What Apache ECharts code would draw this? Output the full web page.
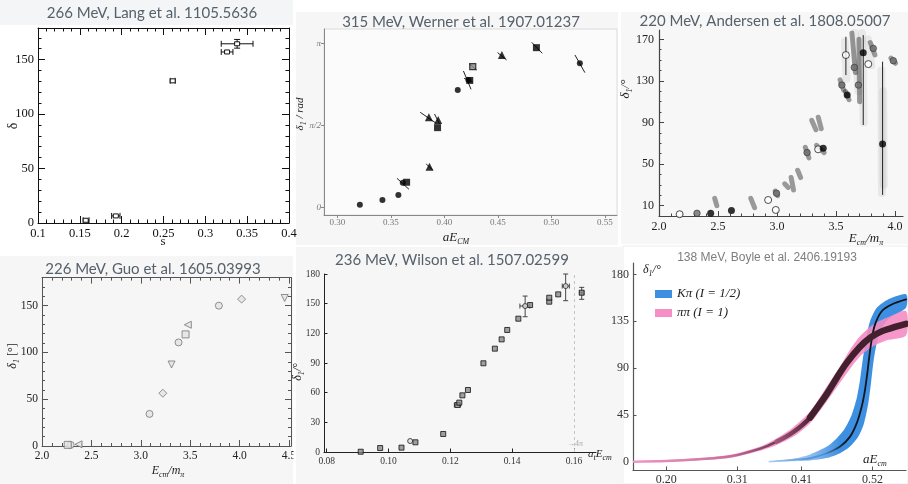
<!DOCTYPE html>
<html>
<head>
<meta charset="utf-8">
<script src="https://cdn.jsdelivr.net/npm/echarts@6/dist/echarts.min.js"></script>
<style>
  html, body { margin: 0; padding: 0; background: #fff; }
  #c { width: 908px; height: 484px; }
</style>
</head>
<body>
<div id="c"></div>
<script>
// ---------- 266 MeV, Lang et al. : [s, delta, sLow, sHigh, deltaLow, deltaHigh]
const langPoints = [
  [0.157, 2.5, 0.154, 0.161, 2.5, 2.5],
  [0.193, 6.5, 0.188, 0.198, 6.5, 6.5],
  [0.261, 130.5, 0.258, 0.264, 130.5, 130.5],
  [0.326, 157, 0.319, 0.333, 157, 157],
  [0.338, 164.5, 0.319, 0.357, 160.5, 168.5]
];
const langXTicks = [0.1, 0.15, 0.2, 0.25, 0.3, 0.35, 0.4];
const langXLabels = ['0.1', '0.15', '0.2', '0.25', '0.3', '0.35', '0.4'];
const langYTicks = [0, 50, 100, 150];
const langYLabels = ['0', '50', '100', '150'];

// ---------- 315 MeV, Werner et al. : [aE_CM, delta_1 (rad)]
const wernerCircles = [[0.3211, 0.051], [0.3422, 0.140], [0.3571, 0.236], [0.3612, 0.47], [0.4126, 2.248], [0.4225, 2.44], [0.5267, 2.758]];
const wernerSquares = [[0.3648, 0.48], [0.3937, 1.526], [0.4238, 2.43], [0.4861, 3.058]];
const wernerTriangles = [[0.3862, 0.779], [0.3856, 1.724], [0.3943, 1.673], [0.4538, 2.918]];
const wernerCrossed = [[0.4266, 2.694]];
// correlated uncertainties: [x1, y1, x2, y2]
const wernerErrors = [
  [0.3558, 0.5555, 0.3670, 0.3448], [0.3831, 0.830, 0.3893, 0.715], [0.3775, 1.820, 0.3924, 1.609],
  [0.3909, 1.788, 0.3955, 1.596], [0.4179, 2.611, 0.4250, 2.260], [0.4185, 2.47, 0.4265, 2.40],
  [0.4234, 2.746, 0.4303, 2.631], [0.4498, 2.963, 0.4582, 2.822], [0.4817, 3.160, 0.4916, 2.950],
  [0.5221, 2.918, 0.5314, 2.580]
];
const wernerXTicks = [0.30, 0.35, 0.40, 0.45, 0.50, 0.55];
const wernerXLabels = ['0.30', '0.35', '0.40', '0.45', '0.50', '0.55'];
const wernerYTicks = [0, Math.PI / 2, Math.PI];
const wernerYLabels = ['0', 'π/2', 'π'];

// ---------- 220 MeV, Andersen et al. : [E_cm/m_pi, delta_1 (deg)]
const andersenFilled = [[2.438, 2.6], [2.614, 5.2], [3.392, 65.1], [3.595, 116.4], [3.731, 157.1], [3.895, 69.3]];
const andersenOpen = [[2.175, 1.7], [2.925, 15.4], [2.99, 5.8], [3.349, 64.2], [3.584, 154.9], [3.774, 146.2]];
const andersenGrey = [[2.322, 2.6], [2.996, 21.9], [3.255, 61], [3.55, 126], [3.816, 161.3], [3.986, 149.4], [3.69, 126], [3.655, 143]];
// bootstrap clouds: [x1, y1, x2, y2]
const andersenClouds = [
  [2.472, 17, 2.49, 10], [2.778, 17, 2.81, 8], [2.985, 24, 3.005, 19.5], [3.065, 31, 3.095, 27.5],
  [3.12, 37, 3.14, 25], [3.175, 44, 3.2, 37], [3.24, 66, 3.27, 56], [3.295, 92, 3.33, 83],
  [3.35, 95, 3.375, 84], [3.335, 68, 3.40, 61], [3.535, 131, 3.565, 121], [3.58, 120, 3.61, 112],
  [3.79, 167, 3.83, 155], [3.965, 152, 4.005, 147], [3.635, 176, 3.665, 138], [3.695, 170, 3.70, 110]
];
const andersenSpread = [
  [3.575, 168, 3.59, 132], [3.66, 176, 3.69, 120], [3.72, 176, 3.735, 90], [3.77, 170, 3.80, 145],
  [3.885, 140, 3.89, 22], [3.90, 120, 3.905, 30]
];
// vertical uncertainty lines: [x, low, high]
const andersenBars = [[3.584, 135.6, 172.5], [3.731, 87.6, 174.1], [3.895, 20.3, 148.5]];
const andersenXTicks = [2.0, 2.5, 3.0, 3.5, 4.0];
const andersenXLabels = ['2.0', '2.5', '3.0', '3.5', '4.0'];
const andersenYTicks = [10, 50, 90, 130, 170];
const andersenYLabels = ['10', '50', '90', '130', '170'];

// ---------- 226 MeV, Guo et al. : [E_cm/m_pi, delta_1 (deg)]
const guoCircles = [[2.29, 1.2], [3.088, 34.3], [3.382, 110.7], [3.79, 150]];
const guoSquares = [[2.26, 1.2], [3.453, 119.3]];
const guoLeftTriangles = [[2.37, 1.8], [3.476, 129.6]];
const guoDiamonds = [[3.223, 56.4], [4.02, 157]];
const guoDownTriangles = [[3.311, 87.1], [4.456, 158.2]];
const guoXTicks = [2.0, 2.5, 3.0, 3.5, 4.0, 4.5];
const guoXLabels = ['2.0', '2.5', '3.0', '3.5', '4.0', '4.5'];
const guoYTicks = [0, 50, 100, 150];
const guoYLabels = ['0', '50', '100', '150'];

// ---------- 236 MeV, Wilson et al. : [a_t E_cm, delta_1 (deg)]
const wilsonSquares = [
  [0.0910, 0.3], [0.0973, 4.0], [0.1042, 4.4], [0.1087, 9.8], [0.1177, 18.2], [0.1223, 47.5],
  [0.1229, 49.9], [0.1239, 57.3], [0.1257, 62.7], [0.1307, 89.7], [0.1344, 104.5], [0.1366, 113.9],
  [0.1384, 123.4], [0.1420, 134.8], [0.1458, 148.6], [0.1520, 152], [0.1520, 156], [0.1549, 159.4],
  [0.1625, 161.1]
];
const wilsonCircles = [[0.1070, 11.1], [0.1442, 147.6], [0.1573, 167.8]];
// [x, y, xLow, xHigh, yLow, yHigh]
const wilsonErrors = [
  [0.1223, 47.5, 0.1213, 0.1233, 47.5, 47.5],
  [0.1442, 147.6, 0.1425, 0.1457, 136.8, 157.7],
  [0.1573, 167.8, 0.1562, 0.1585, 153, 180],
  [0.1625, 161.1, 0.1618, 0.1631, 154.4, 166.5]
];
const wilsonThreshold = 0.1573;
const wilsonXTicks = [0.08, 0.10, 0.12, 0.14, 0.16];
const wilsonXLabels = ['0.08', '0.10', '0.12', '0.14', '0.16'];
const wilsonYTicks = [0, 30, 60, 90, 120, 150, 180];
const wilsonYLabels = ['0', '30', '60', '90', '120', '150', '180'];

// ---------- 138 MeV, Boyle et al. : [aE_cm, delta_1 (deg)]
const boylePiPiUpper = [[0.150, 0.4], [0.20, 1.3], [0.25, 3.2], [0.30, 6.6], [0.3457, 14.5], [0.3716, 22.6], [0.3973, 33.2], [0.4232, 48.2], [0.4491, 72.3], [0.4697, 91.6], [0.4852, 107.7], [0.5007, 120.5], [0.5213, 131.8], [0.5421, 138.3], [0.5720, 144.8]];
const boylePiPiLower = [[0.150, -0.3], [0.20, 0.1], [0.25, 1.4], [0.30, 3.8], [0.3457, 10.6], [0.3716, 16.1], [0.3973, 24.1], [0.4232, 37.0], [0.4491, 57.9], [0.4748, 80.4], [0.5007, 101.3], [0.5213, 110.9], [0.5421, 116.7], [0.5720, 121.4]];
const boylePiPiCentre = [[0.150, 0], [0.20, 0.6], [0.25, 2.3], [0.30, 5.2], [0.3457, 12.6], [0.3716, 19.3], [0.3973, 28.5], [0.4232, 42.5], [0.449, 65], [0.465, 81], [0.48, 95], [0.50, 110], [0.516, 119], [0.535, 125.5], [0.555, 129.5], [0.572, 132.5]];
const boyleKPiUpper = [[0.36, 0.3], [0.3973, 3.0], [0.4232, 7.0], [0.4491, 14.5], [0.4646, 22.6], [0.4774, 32.2], [0.4878, 45.0], [0.4956, 61.1], [0.5007, 78.8], [0.5049, 98.1], [0.51, 117.4], [0.5162, 135.0], [0.5266, 147.9], [0.5421, 155.3], [0.5720, 161.0]];
const boyleKPiLower = [[0.36, 0], [0.3973, 0.5], [0.4232, 1.2], [0.4491, 3.5], [0.4697, 8.1], [0.4852, 14.5], [0.498, 24.1], [0.5069, 37.0], [0.5136, 56.3], [0.5177, 75.6], [0.5213, 94.9], [0.5266, 114.2], [0.5343, 128.6], [0.5472, 138.3], [0.5720, 148.0]];
const boyleKPiCentre = [[0.36, 0.1], [0.3973, 1.8], [0.4232, 3.3], [0.4491, 8.1], [0.4697, 14.5], [0.4852, 24.1], [0.4956, 37.0], [0.5033, 53.0], [0.5084, 69.1], [0.512, 85.2], [0.5151, 101.3], [0.5188, 117.4], [0.5239, 131.8], [0.5343, 144.6], [0.5498, 151.1], [0.572, 156.0]];
const boyleThresholds = [[0.156, 'ππ'], [0.322, '4π'], [0.372, 'Kπ'], [0.452, 'Kππ']];
const boyleXTicks = [0.20, 0.31, 0.41, 0.52];
const boyleXLabels = ['0.20', '0.31', '0.41', '0.52'];
const boyleYTicks = [0, 45, 90, 135, 180];
const boyleYLabels = ['0', '45', '90', '135', '180'];

// ---------- helpers
const SERIF = '"Liberation Serif", "DejaVu Serif", serif';
const TITLE_FONT = 'Lato, "Open Sans", sans-serif';
const TITLE_COLOR = '#56616c';

function steps(a, b, step) {
  const out = [];
  const n = Math.round((b - a) / step);
  for (let i = 0; i <= n; i++) out.push(+(a + i * step).toFixed(6));
  return out;
}
function minorTicks(a, b, step, majors) {
  return steps(a, b, step).filter(v => !majors.some(m => Math.abs(m - v) < step * 1e-3));
}
function labelFor(v, ticks, labels) {
  let best = 0, d = Infinity;
  ticks.forEach((t, i) => { const dd = Math.abs(t - v); if (dd < d) { d = dd; best = i; } });
  return labels[best];
}
function makeAxis(c) {
  return {
    type: 'value', gridIndex: c.grid, position: c.pos, min: c.min, max: c.max,
    splitLine: { show: false }, splitArea: { show: false },
    axisLine: { show: c.line !== false, onZero: false, lineStyle: { color: c.color || '#000', width: c.lw || 1 } },
    axisTick: {
      show: !!c.ticks, inside: !!c.inside, length: c.len || 5,
      customValues: c.ticks || [], lineStyle: { color: c.tickColor || c.color || '#000', width: 1 }
    },
    axisLabel: c.labels ? Object.assign({
      show: true, customValues: c.ticks,
      formatter: v => labelFor(v, c.ticks, c.labels),
      fontFamily: 'Liberation Serif', fontSize: 12, color: '#222', margin: 4
    }, c.labelStyle || {}) : { show: false }
  };
}
const xAxes = [], yAxes = [];
function addX(c) { xAxes.push(makeAxis(c)); return xAxes.length - 1; }
function addY(c) { yAxes.push(makeAxis(c)); return yAxes.length - 1; }

// A boxed frame: labelled bottom/left axes plus mirrored top/right, each with minor ticks.
function boxAxes(g, xr, yr, xt, xl, xm, yt, yl, ym, color, labelStyle, majLen, minLen) {
  const xi = addX({ grid: g, pos: 'bottom', min: xr[0], max: xr[1], ticks: xt, labels: xl, inside: true, len: majLen, color, labelStyle });
  addX({ grid: g, pos: 'bottom', min: xr[0], max: xr[1], ticks: xm, inside: true, len: minLen, color, line: false });
  addX({ grid: g, pos: 'top', min: xr[0], max: xr[1], ticks: xt, inside: true, len: majLen, color });
  addX({ grid: g, pos: 'top', min: xr[0], max: xr[1], ticks: xm, inside: true, len: minLen, color, line: false });
  const yi = addY({ grid: g, pos: 'left', min: yr[0], max: yr[1], ticks: yt, labels: yl, inside: true, len: majLen, color, labelStyle });
  addY({ grid: g, pos: 'left', min: yr[0], max: yr[1], ticks: ym, inside: true, len: minLen, color, line: false });
  addY({ grid: g, pos: 'right', min: yr[0], max: yr[1], ticks: yt, inside: true, len: majLen, color });
  addY({ grid: g, pos: 'right', min: yr[0], max: yr[1], ticks: ym, inside: true, len: minLen, color, line: false });
  return [xi, yi];
}

// error bars with caps
function errorBars(xi, yi, data, color, cap, lw, marker) {
  return {
    type: 'custom', xAxisIndex: xi, yAxisIndex: yi, data, silent: true, z: 3,
    encode: { x: 0, y: 1 },
    renderItem: (p, api) => {
      const x = api.value(0), y = api.value(1);
      const xl = api.value(2), xh = api.value(3), yl = api.value(4), yh = api.value(5);
      const st = { stroke: color, lineWidth: lw, fill: null };
      const ch = [];
      const seg = (a, b) => ch.push({ type: 'line', shape: { x1: a[0], y1: a[1], x2: b[0], y2: b[1] }, style: st });
      if (xh > xl) {
        const a = api.coord([xl, y]), b = api.coord([xh, y]);
        seg(a, b);
        seg([a[0], a[1] - cap], [a[0], a[1] + cap]);
        seg([b[0], b[1] - cap], [b[0], b[1] + cap]);
      }
      if (yh > yl) {
        const a = api.coord([x, yl]), b = api.coord([x, yh]);
        seg(a, b);
        seg([a[0] - cap, a[1]], [a[0] + cap, a[1]]);
        seg([b[0] - cap, b[1]], [b[0] + cap, b[1]]);
      }
      if (marker) {
        const c = api.coord([x, y]);
        ch.push({ type: 'rect', shape: { x: c[0] - 2.5, y: c[1] - 2, width: 5, height: 4 }, style: { stroke: color, fill: '#fff', lineWidth: 1 } });
      }
      return { type: 'group', children: ch };
    }
  };
}
function segments(xi, yi, data, stroke, width, cap) {
  return {
    type: 'custom', xAxisIndex: xi, yAxisIndex: yi, data, silent: true,
    encode: { x: [0, 2], y: [1, 3] },
    renderItem: (p, api) => {
      const a = api.coord([api.value(0), api.value(1)]);
      const b = api.coord([api.value(2), api.value(3)]);
      return { type: 'line', shape: { x1: a[0], y1: a[1], x2: b[0], y2: b[1] }, style: { stroke, lineWidth: width, lineCap: cap || 'butt' } };
    }
  };
}
function scatter(xi, yi, data, symbol, size, style, rotate, z) {
  return {
    type: 'scatter', xAxisIndex: xi, yAxisIndex: yi, data, symbol, symbolSize: size,
    symbolRotate: rotate || 0, itemStyle: style, silent: true, z: z || 4
  };
}

const series = [];
const BOYLE_GRID = { left: 633, top: 263, width: 273, height: 207 };
const BOYLE_X = [0.1484, 0.572];
const grids = [
  { left: 38, top: 28, width: 251, height: 195 },                      // Lang
  { left: 324, top: 29, width: 293, height: 186, show: true,
    backgroundColor: '#fbfbfb', borderColor: '#dcdcdc', borderWidth: 1 }, // Werner
  { left: 659, top: 30, width: 244, height: 186 },                      // Andersen
  { left: 42, top: 277.6, width: 249, height: 168.4 },                  // Guo
  { left: 324, top: 274, width: 272, height: 178 },                     // Wilson
  BOYLE_GRID                                                            // Boyle
].map(g => Object.assign({ containLabel: false, outerBoundsMode: 'none' }, g));

// ---- Lang
const [lx, ly] = boxAxes(0, [0.1, 0.4], [0, 179],
  langXTicks, langXLabels, minorTicks(0.1, 0.4, 0.01, langXTicks),
  langYTicks, langYLabels, minorTicks(0, 170, 10, langYTicks),
  '#111', { fontSize: 12.5, color: '#111' }, 7, 3.5);
series.push(errorBars(lx, ly, langPoints, '#111', 3, 1, true));

// ---- Werner
const wLabel = { fontSize: 9, color: '#777', margin: 3 };
const wx = addX({ grid: 1, pos: 'bottom', min: 0.2876, max: 0.5614, ticks: wernerXTicks, labels: wernerXLabels, len: 3, color: '#888', labelStyle: wLabel });
const wy = addY({ grid: 1, pos: 'left', min: -0.1475, max: 3.4155, ticks: wernerYTicks, labels: wernerYLabels, len: 3, color: '#888', labelStyle: Object.assign({ fontStyle: 'italic', margin: 4 }, wLabel) });
series.push(segments(wx, wy, wernerErrors, '#222', 1));
series.push(scatter(wx, wy, wernerCircles, 'circle', 6, { color: '#000' }));
series.push(scatter(wx, wy, wernerSquares, 'rect', 7, { color: '#000' }));
series.push(scatter(wx, wy, wernerTriangles, 'triangle', 8, { color: '#000' }));
series.push(scatter(wx, wy, wernerCrossed, 'rect', 6, { color: '#888', borderColor: '#111', borderWidth: 1.2 }));

// ---- Andersen
const aLabel = { fontSize: 12, color: '#222', margin: 5 };
const ax = addX({ grid: 2, pos: 'bottom', min: 2.0, max: 4.068, ticks: andersenXTicks, labels: andersenXLabels, inside: true, len: 5, color: '#444', lw: 1.2, labelStyle: aLabel });
addX({ grid: 2, pos: 'bottom', min: 2.0, max: 4.068, ticks: minorTicks(2.0, 4.0, 0.1, andersenXTicks), inside: true, len: 2.5, color: '#444', line: false });
const ay = addY({ grid: 2, pos: 'left', min: 0, max: 179, ticks: andersenYTicks, labels: andersenYLabels, inside: true, len: 5, color: '#444', lw: 1.2, labelStyle: aLabel });
addY({ grid: 2, pos: 'left', min: 0, max: 179, ticks: minorTicks(0, 170, 10, andersenYTicks), inside: true, len: 2.5, color: '#444', line: false });
series.push(segments(ax, ay, andersenSpread, 'rgba(90,90,90,0.09)', 8, 'round'));
series.push(segments(ax, ay, andersenClouds, 'rgba(60,60,60,0.5)', 5, 'round'));
series.push({
  type: 'custom', xAxisIndex: ax, yAxisIndex: ay, data: andersenBars, silent: true, encode: { x: 0, y: [1, 2] },
  renderItem: (p, api) => {
    const a = api.coord([api.value(0), api.value(1)]), b = api.coord([api.value(0), api.value(2)]);
    return { type: 'line', shape: { x1: a[0], y1: a[1], x2: b[0], y2: b[1] }, style: { stroke: '#222', lineWidth: 1 } };
  }
});
series.push(scatter(ax, ay, andersenGrey, 'circle', 6.5, { color: '#6d6d6d', borderColor: '#333', borderWidth: 0.8 }));
series.push(scatter(ax, ay, andersenOpen, 'circle', 7, { color: '#fff', borderColor: '#222', borderWidth: 1 }));
series.push(scatter(ax, ay, andersenFilled, 'circle', 7, { color: '#000' }));

// ---- Guo
const [gx, gy] = boxAxes(3, [2.0, 4.52], [0, 180],
  guoXTicks, guoXLabels, minorTicks(2.0, 4.5, 0.1, guoXTicks),
  guoYTicks, guoYLabels, minorTicks(0, 180, 10, guoYTicks),
  '#555', { fontSize: 11.5, color: '#222' }, 6, 3);
const gStyle = { color: '#e4e4e4', borderColor: '#777', borderWidth: 1 };
series.push(scatter(gx, gy, guoCircles, 'circle', 7, gStyle));
series.push(scatter(gx, gy, guoSquares, 'rect', 7, gStyle));
series.push(scatter(gx, gy, guoLeftTriangles, 'triangle', 7, gStyle, 90));
series.push(scatter(gx, gy, guoDiamonds, 'diamond', 8, gStyle));
series.push(scatter(gx, gy, guoDownTriangles, 'triangle', 7, gStyle, 180));

// ---- Wilson
const wiLabel = { fontSize: 9.5, color: '#333', margin: 4 };
const wix = addX({ grid: 4, pos: 'bottom', min: 0.07913, max: 0.16712, ticks: wilsonXTicks, labels: wilsonXLabels, inside: true, len: 3.5, color: '#222', labelStyle: wiLabel });
const wiy = addY({ grid: 4, pos: 'left', min: 0, max: 180, ticks: wilsonYTicks, labels: wilsonYLabels, inside: true, len: 3.5, color: '#222', labelStyle: wiLabel });
series.push({
  type: 'line', xAxisIndex: wix, yAxisIndex: wiy, data: [], silent: true,
  markLine: {
    silent: true, symbol: 'none', label: { show: false },
    lineStyle: { type: [3, 3], color: '#c4c4c4', width: 1 },
    data: [{ xAxis: wilsonThreshold }]
  }
});
series.push(errorBars(wix, wiy, wilsonErrors, '#333', 2.5, 0.9, false));
series.push(scatter(wix, wiy, wilsonSquares, 'rect', 5, { color: '#8a8a8a', borderColor: '#111', borderWidth: 1 }));
series.push(scatter(wix, wiy, wilsonCircles, 'circle', 5, { color: '#ddd', borderColor: '#222', borderWidth: 1 }));

// ---- Boyle
const bLabel = { fontSize: 12, color: '#333', margin: 4 };
const bx = addX({ grid: 5, pos: 'bottom', min: BOYLE_X[0], max: BOYLE_X[1], ticks: boyleXTicks, labels: boyleXLabels, inside: true, len: 3.5, color: '#555', lw: 1.2, labelStyle: bLabel });
const by = addY({ grid: 5, pos: 'left', min: -8, max: 191, ticks: boyleYTicks, labels: boyleYLabels, inside: true, len: 3.5, color: '#555', lw: 1.2, labelStyle: bLabel });
// horizontal pixel position of an energy value, for gradient stops
const boylePx = v => BOYLE_GRID.left + (v - BOYLE_X[0]) / (BOYLE_X[1] - BOYLE_X[0]) * BOYLE_GRID.width;
const hGrad = (v0, v1, stops) => ({ type: 'linear', x: boylePx(v0), y: 0, x2: boylePx(v1), y2: 0, global: true, colorStops: stops });

function band(name, upper, lower, legendColor, fill, opacity) {
  return {
    type: 'custom', name, xAxisIndex: bx, yAxisIndex: by, data: [upper[0]], silent: true,
    itemStyle: { color: legendColor }, encode: { x: 0, y: 1 },
    renderItem: (p, api) => {
      const pts = upper.map(q => api.coord(q)).concat(lower.slice().reverse().map(q => api.coord(q)));
      return { type: 'polygon', shape: { points: pts, smooth: 0.25 }, style: { fill, opacity } };
    }
  };
}
function curve(data, width, color, z) {
  return { type: 'line', xAxisIndex: bx, yAxisIndex: by, data, smooth: 0.35, showSymbol: false, silent: true, z,
    lineStyle: { width, color, cap: 'round' } };
}
series.push(band('Kπ (I = 1/2)', boyleKPiUpper, boyleKPiLower, '#3d8fe2',
  hGrad(0.36, 0.47, [{ offset: 0, color: '#e3eefa' }, { offset: 0.6, color: '#8dbbee' }, { offset: 1, color: '#3d8fe2' }]), 1));
series.push(band('ππ (I = 1)', boylePiPiUpper, boylePiPiLower, '#f78fc6',
  hGrad(0.15, 0.40, [{ offset: 0, color: '#f7a8d0' }, { offset: 1, color: '#f48ac2' }]), 0.88));
series.push(curve(boyleKPiCentre, 1.8,
  hGrad(0.36, 0.572, [{ offset: 0, color: 'rgba(90,150,225,0.4)' }, { offset: 0.4, color: '#4a8fd8' }, { offset: 0.55, color: '#101820' }, { offset: 1, color: '#101010' }]), 3));
// the dark inner ππ band widens with energy
series.push(curve(boylePiPiCentre, 2.5,
  hGrad(0.15, 0.40, [{ offset: 0, color: '#ef97c3' }, { offset: 0.6, color: '#c86e9b' }, { offset: 1, color: '#4a2335' }]), 4));
series.push(curve(boylePiPiCentre.filter(p => p[0] >= 0.3716), 4.5,
  hGrad(0.37, 0.43, [{ offset: 0, color: '#a4557b' }, { offset: 1, color: '#45202f' }]), 4));
series.push(curve(boylePiPiCentre.filter(p => p[0] >= 0.4232), 6.5, '#43202e', 4));
series.push({
  type: 'scatter', xAxisIndex: bx, yAxisIndex: by, silent: true, symbol: 'none',
  data: boyleThresholds.map(t => [t[0], -8, t[1]]),
  label: { show: true, position: 'top', distance: 1, formatter: p => p.data[2], fontFamily: SERIF, fontStyle: 'italic', fontSize: 9, color: '#9a9a9a' }
});

// ---------- backgrounds and free text
const sub = { fontFamily: SERIF, fontStyle: 'italic', fontSize: 8, verticalAlign: 'bottom', lineHeight: 15 };
const main = (size, style) => ({ fontFamily: SERIF, fontStyle: style || 'italic', fontSize: size, verticalAlign: 'middle', lineHeight: 15 });
function text(x, y, str, rich, opts) {
  return Object.assign({
    type: 'text', x, y, z: 10, silent: true,
    style: { text: str, rich, fill: '#222', align: 'center', verticalAlign: 'middle' }
  }, opts || {});
}
function leftText(x, y, str, rich) {
  return { type: 'text', x, y, z: 10, silent: true, style: { text: str, rich, fill: '#222', align: 'left', verticalAlign: 'middle' } };
}
function title(x, y, str, size) {
  return { type: 'text', x, y, z: 10, silent: true,
    style: { text: str, fontFamily: TITLE_FONT, fontSize: size || 15, fill: TITLE_COLOR, align: 'center', verticalAlign: 'middle' } };
}
const graphic = [
  { type: 'rect', z: -5, silent: true, shape: { x: 0, y: 0, width: 293, height: 25 }, style: { fill: '#f4f5f6' } },
  { type: 'rect', z: -5, silent: true, shape: { x: 296, y: 12, width: 322, height: 233 }, style: { fill: '#f6f6f6' } },
  { type: 'rect', z: -5, silent: true, shape: { x: 621, y: 12, width: 287, height: 232 }, style: { fill: '#f7f7f7' } },
  { type: 'rect', z: -5, silent: true, shape: { x: 0, y: 256, width: 293, height: 228 }, style: { fill: '#f6f6f6' } },
  { type: 'rect', z: -5, silent: true, shape: { x: 296, y: 247, width: 326, height: 237 }, style: { fill: '#f6f6f6' } },
  { type: 'rect', z: -5, silent: true, shape: { x: 623, y: 246, width: 285, height: 238 }, style: { fill: '#ffffff', stroke: '#ececec', lineWidth: 1 } },
  { type: 'rect', z: -4, silent: true, shape: { x: 38, y: 28, width: 251, height: 195 }, style: { fill: '#ffffff' } },

  title(152, 13, '266 MeV, Lang et al. 1105.5636'),
  title(461, 22.5, '315 MeV, Werner et al. 1907.01237'),
  title(765, 21.5, '220 MeV, Andersen et al. 1808.05007'),
  title(153, 269, '226 MeV, Guo et al. 1605.03993'),
  title(452, 260, '236 MeV, Wilson et al. 1507.02599'),
  { type: 'text', x: 767, y: 258, z: 10, silent: true,
    style: { text: '138 MeV, Boyle et al. 2406.19193', fontFamily: '"Liberation Sans", Arial, sans-serif', fontSize: 12, fill: '#7d7d7d', align: 'center', verticalAlign: 'middle' } },

  // Lang
  text(13, 126, '{m|δ}', { m: main(14, 'normal') }, { rotation: Math.PI / 2 }),
  text(163, 242, '{m|s}', { m: main(13, 'normal') }),
  // Werner (its axis title is partly tucked behind the neighbouring panel)
  text(300, 114, '{m|δ}{s|1}{m| / rad}', { m: main(11), s: sub }, { rotation: Math.PI / 2 }),
  { type: 'rect', z: 11, silent: true, shape: { x: 290.5, y: 60, width: 5.5, height: 110 }, style: { fill: '#ffffff' } },
  text(456, 238, '{m|aE}{s|CM}', { m: main(13), s: sub }),
  // Andersen
  text(626, 89, '{m|δ}{s|1}{m|/°}', { m: main(13), s: sub }, { rotation: Math.PI / 2 }),
  text(866, 239, '{m|E}{s|cm}{m|/m}{s|π}', { m: main(13), s: sub }),
  // Guo (its last tick label runs under the panel edge)
  text(13, 356, '{m|δ}{s|1}{n| [°]}', { m: main(12), s: sub, n: main(12, 'normal') }, { rotation: Math.PI / 2 }),
  text(168, 471, '{m|E}{s|cm}{m|/m}{s|π}', { m: main(12), s: sub }),
  { type: 'rect', z: 11, silent: true, shape: { x: 293.5, y: 447, width: 2.5, height: 20 }, style: { fill: '#ffffff' } },
  // Wilson
  text(298, 372, '{m|δ}{s|1}{m|/°}', { m: main(12), s: sub }, { rotation: Math.PI / 2 }),
  leftText(588, 454, '{m|a}{s|t}{m|E}{s|cm}', { m: main(11), s: sub }),
  { type: 'text', x: 575, y: 444, z: 10, silent: true,
    style: { text: '→4π', fontFamily: SERIF, fontSize: 8, fill: '#aaa', align: 'center', verticalAlign: 'middle' } },
  // Boyle
  leftText(643, 270, '{m|δ}{s|1}{m|/°}', { m: main(12), s: sub }),
  leftText(863, 460, '{m|aE}{s|cm}', { m: main(13), s: sub })
];

const chart = echarts.init(document.getElementById('c'), null, { renderer: 'canvas' });
chart.setOption({
  backgroundColor: '#ffffff',
  animation: false,
  grid: grids,
  xAxis: xAxes,
  yAxis: yAxes,
  legend: {
    data: ['Kπ (I = 1/2)', 'ππ (I = 1)'], orient: 'vertical', left: 650, top: 282,
    icon: 'rect', itemWidth: 17, itemHeight: 8, itemGap: 5, selectedMode: false,
    textStyle: { fontFamily: SERIF, fontStyle: 'italic', fontSize: 13, color: '#222', lineHeight: 14 }
  },
  graphic,
  series
});
</script>
</body>
</html>
